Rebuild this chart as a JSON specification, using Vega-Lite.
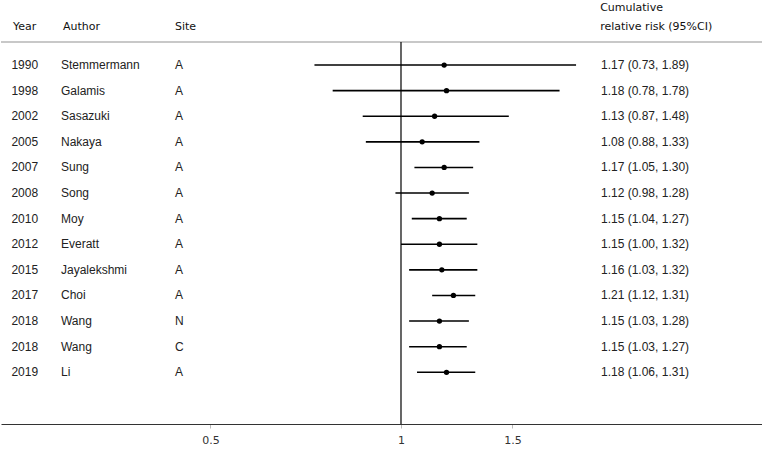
{
  "$schema": "https://vega.github.io/schema/vega-lite/v6.json",
  "width": 762,
  "height": 424,
  "padding": 0,
  "autosize": {"type": "pad"},
  "background": "white",
  "config": {"view": {"stroke": null}},
  "datasets": {
    "studies": [
      {"order": 0, "year": "1990", "author": "Stemmermann", "site": "A", "rr": 1.17, "lo": 0.73, "hi": 1.89},
      {"order": 1, "year": "1998", "author": "Galamis", "site": "A", "rr": 1.18, "lo": 0.78, "hi": 1.78},
      {"order": 2, "year": "2002", "author": "Sasazuki", "site": "A", "rr": 1.13, "lo": 0.87, "hi": 1.48},
      {"order": 3, "year": "2005", "author": "Nakaya", "site": "A", "rr": 1.08, "lo": 0.88, "hi": 1.33},
      {"order": 4, "year": "2007", "author": "Sung", "site": "A", "rr": 1.17, "lo": 1.05, "hi": 1.30},
      {"order": 5, "year": "2008", "author": "Song", "site": "A", "rr": 1.12, "lo": 0.98, "hi": 1.28},
      {"order": 6, "year": "2010", "author": "Moy", "site": "A", "rr": 1.15, "lo": 1.04, "hi": 1.27},
      {"order": 7, "year": "2012", "author": "Everatt", "site": "A", "rr": 1.15, "lo": 1.00, "hi": 1.32},
      {"order": 8, "year": "2015", "author": "Jayalekshmi", "site": "A", "rr": 1.16, "lo": 1.03, "hi": 1.32},
      {"order": 9, "year": "2017", "author": "Choi", "site": "A", "rr": 1.21, "lo": 1.12, "hi": 1.31},
      {"order": 10, "year": "2018", "author": "Wang", "site": "N", "rr": 1.15, "lo": 1.03, "hi": 1.28},
      {"order": 11, "year": "2018", "author": "Wang", "site": "C", "rr": 1.15, "lo": 1.03, "hi": 1.27},
      {"order": 12, "year": "2019", "author": "Li", "site": "A", "rr": 1.18, "lo": 1.06, "hi": 1.31}
    ],
    "one": [{"k": 1}]
  },
  "resolve": {"scale": {"x": "shared", "y": "shared"}},
  "layer": [
    {
      "data": {"name": "studies"},
      "mark": {"type": "rule", "color": "#000000", "strokeWidth": 1.6},
      "encoding": {
        "y": {"field": "order", "type": "quantitative", "scale": {"domain": [-2.54, 14.02], "reverse": true, "zero": false, "nice": false}, "axis": null},
        "x": {"field": "lo", "type": "quantitative",
          "scale": {"type": "log", "domain": [0.2335, 3.73], "nice": false, "zero": false},
          "axis": {"values": [0.5, 1, 1.5], "title": null, "labelFont": "DejaVu Sans", "labelFontSize": 11, "labelColor": "#333333", "domainColor": "#333333", "domainWidth": 1.2, "tickColor": "#bbbbbb", "tickSize": 4, "labelPadding": 6, "grid": false, "labelFlush": false}},
        "x2": {"field": "hi"}
      }
    },
    {
      "data": {"name": "one"},
      "mark": {"type": "rule", "color": "#c8c8c8", "strokeWidth": 2},
      "encoding": {
        "x": {"datum": 0.2335, "type": "quantitative"},
        "x2": {"datum": 3.73},
        "y": {"datum": -0.9, "type": "quantitative"}
      }
    },
    {
      "data": {"name": "one"},
      "mark": {"type": "rule", "color": "#000000", "strokeWidth": 1.2},
      "encoding": {
        "x": {"datum": 1, "type": "quantitative"},
        "y": {"datum": -0.9, "type": "quantitative"},
        "y2": {"datum": 14.02}
      }
    },
    {
      "data": {"name": "studies"},
      "mark": {"type": "circle", "color": "#000000", "opacity": 1, "size": 28},
      "encoding": {"x": {"field": "rr", "type": "quantitative"}, "y": {"field": "order", "type": "quantitative"}}
    },
    {
      "data": {"name": "studies"},
      "mark": {"type": "text", "align": "left", "baseline": "middle", "font": "Liberation Sans", "fontSize": 12, "color": "#222222"},
      "encoding": {"x": {"datum": 0.2425, "type": "quantitative"}, "y": {"field": "order", "type": "quantitative"}, "text": {"field": "year"}}
    },
    {
      "data": {"name": "studies"},
      "mark": {"type": "text", "align": "left", "baseline": "middle", "font": "Liberation Sans", "fontSize": 12, "color": "#222222"},
      "encoding": {"x": {"datum": 0.2904, "type": "quantitative"}, "y": {"field": "order", "type": "quantitative"}, "text": {"field": "author"}}
    },
    {
      "data": {"name": "studies"},
      "mark": {"type": "text", "align": "left", "baseline": "middle", "font": "Liberation Sans", "fontSize": 12, "color": "#222222"},
      "encoding": {"x": {"datum": 0.4396, "type": "quantitative"}, "y": {"field": "order", "type": "quantitative"}, "text": {"field": "site"}}
    },
    {
      "data": {"name": "studies"},
      "transform": [{"calculate": "format(datum.rr, '.2f') + ' (' + format(datum.lo, '.2f') + ', ' + format(datum.hi, '.2f') + ')'", "as": "label"}],
      "mark": {"type": "text", "align": "left", "baseline": "middle", "font": "Liberation Sans", "fontSize": 12, "color": "#222222"},
      "encoding": {"x": {"datum": 2.0695, "type": "quantitative"}, "y": {"field": "order", "type": "quantitative"}, "text": {"field": "label"}}
    },
    {
      "data": {"values": [{"h": "Year", "pos": 0.2439}, {"h": "Author", "pos": 0.2926}, {"h": "Site", "pos": 0.4396}]},
      "mark": {"type": "text", "align": "left", "baseline": "middle", "font": "DejaVu Sans", "fontSize": 11, "color": "#111111"},
      "encoding": {"x": {"field": "pos", "type": "quantitative"}, "y": {"datum": -1.48, "type": "quantitative"}, "text": {"field": "h"}}
    },
    {
      "data": {"name": "one"},
      "mark": {"type": "text", "align": "left", "baseline": "middle", "font": "DejaVu Sans", "fontSize": 11, "color": "#111111"},
      "encoding": {"x": {"datum": 2.063, "type": "quantitative"}, "y": {"datum": -2.23, "type": "quantitative"}, "text": {"value": "Cumulative"}}
    },
    {
      "data": {"name": "one"},
      "mark": {"type": "text", "align": "left", "baseline": "middle", "font": "DejaVu Sans", "fontSize": 11, "color": "#111111"},
      "encoding": {"x": {"datum": 2.063, "type": "quantitative"}, "y": {"datum": -1.48, "type": "quantitative"}, "text": {"value": "relative risk (95%CI)"}}
    }
  ]
}
